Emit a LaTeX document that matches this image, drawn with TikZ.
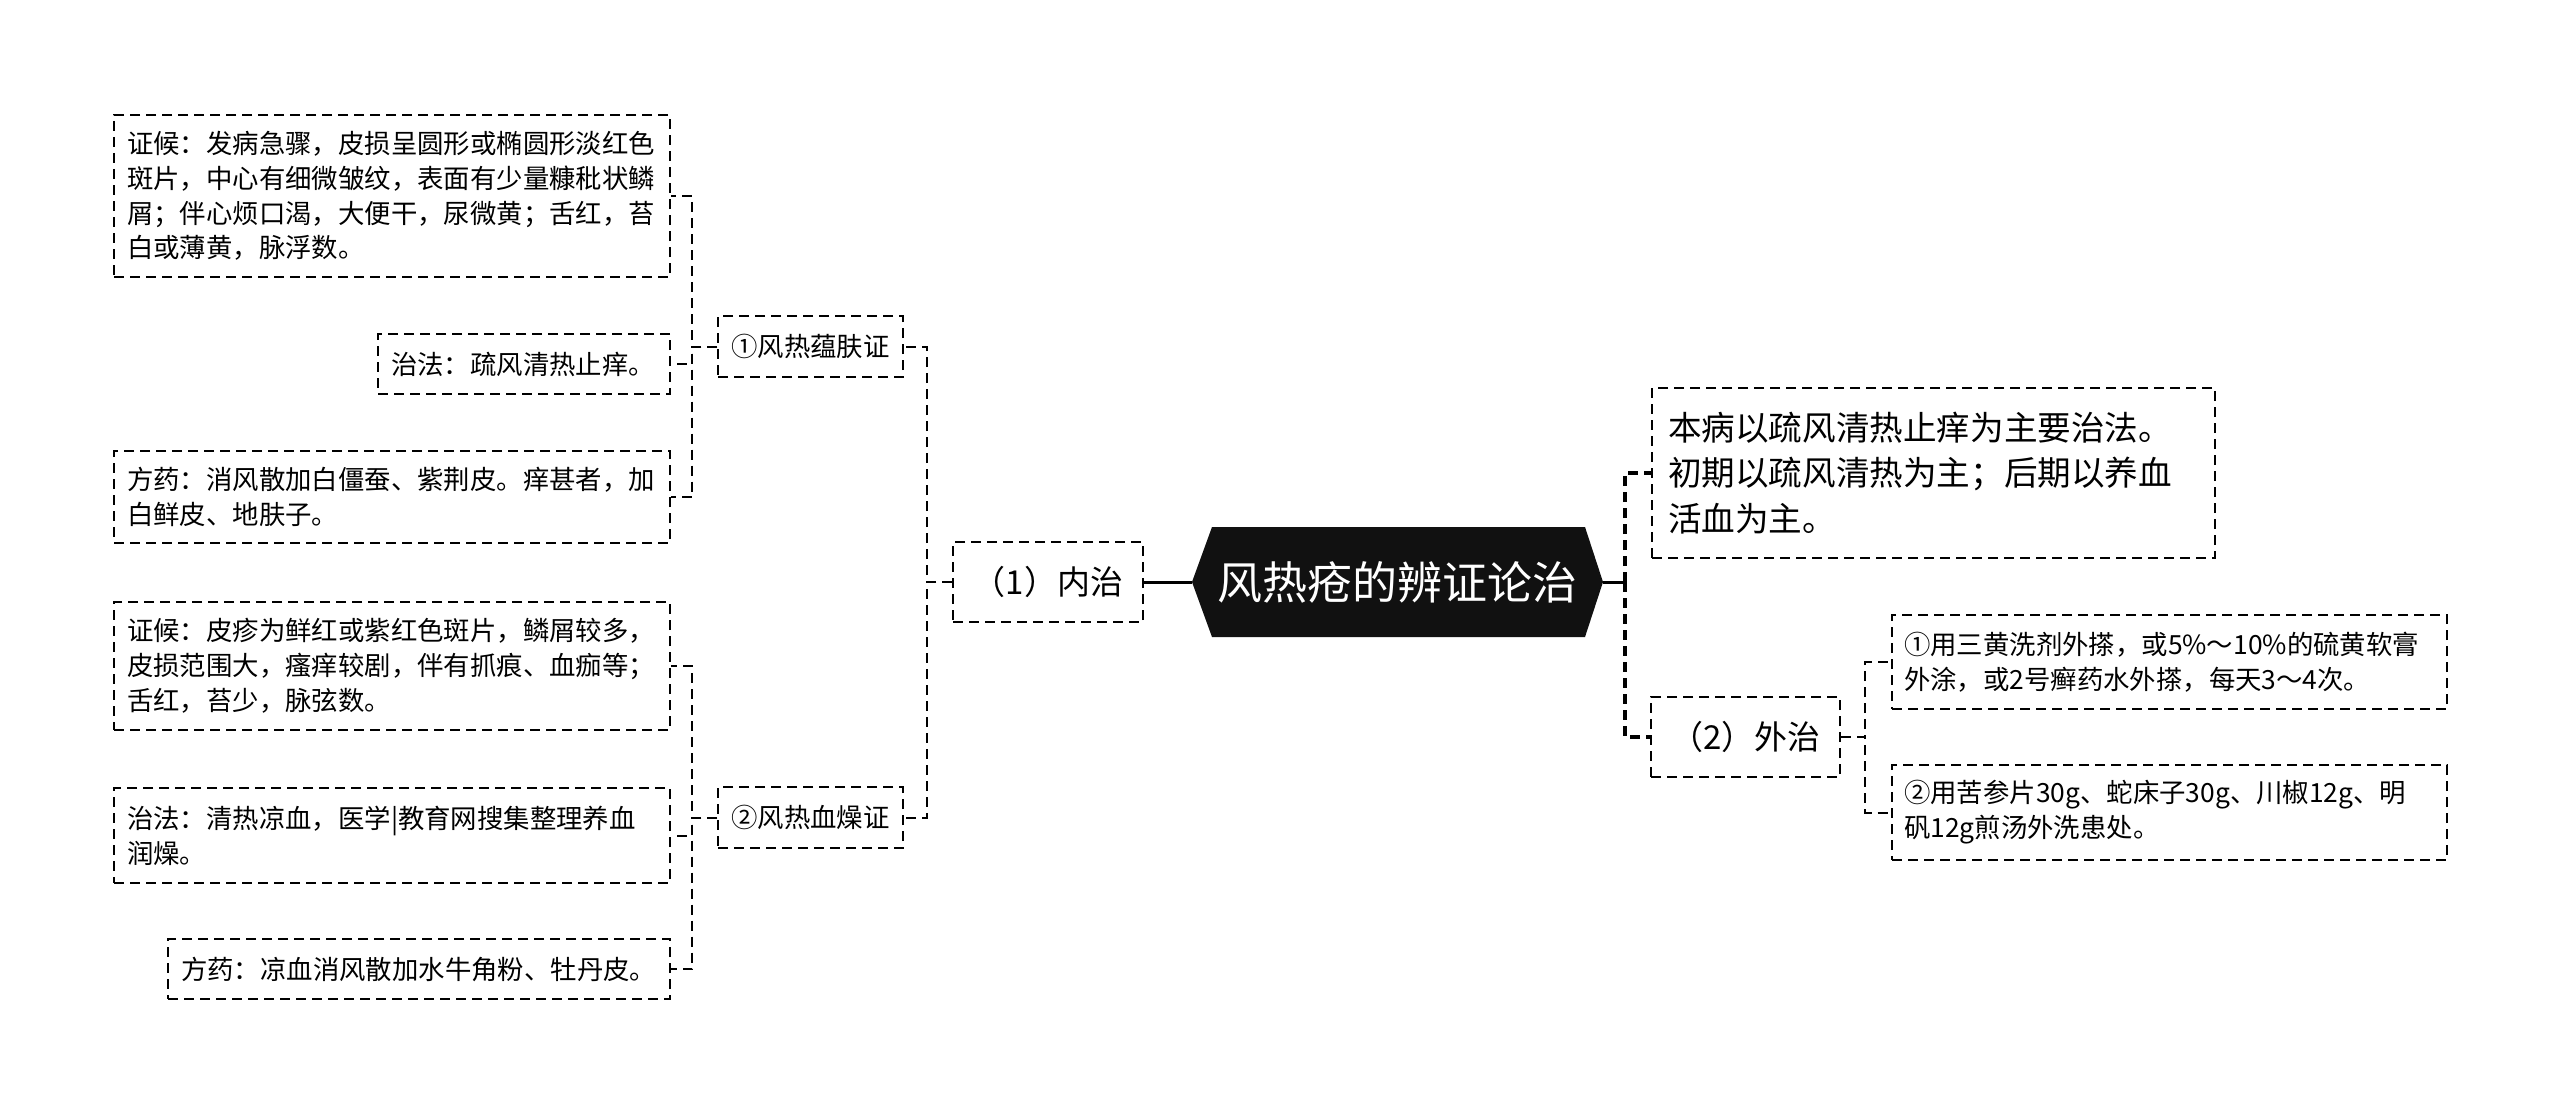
\documentclass[tikz,border=0pt]{standalone}
\usepackage{fontspec}
\setmainfont{Noto Sans CJK SC}
\definecolor{rootfill}{HTML}{111111}
\begin{document}
\begin{tikzpicture}[x=1pt,y=-1pt,
  box/.style={draw=black, line width=2pt, dash pattern=on 10pt off 6pt, anchor=north west,
    inner xsep=13pt, inner ysep=0pt, align=left, font=\fontsize{26.4pt}{34.8pt}\selectfont},
  midbox/.style={draw=black, line width=2pt, dash pattern=on 10pt off 6pt, inner sep=0pt,
    align=center, font=\fontsize{26.4pt}{34.8pt}\selectfont},
  bigbox/.style={draw=black, line width=2pt, dash pattern=on 10pt off 6pt, inner sep=0pt,
    align=center, font=\fontsize{33pt}{40pt}\selectfont},
  conn/.style={line width=2pt, dash pattern=on 10pt off 6pt},
  thickconn/.style={line width=3.5pt, dash pattern=on 10pt off 6pt},
  solidconn/.style={line width=3pt},
  rootnode/.style={minimum width=411pt, minimum height=110pt, inner sep=0pt, fill=white,
    text=white, font=\fontsize{45pt}{54pt}\selectfont,
    path picture={\fill[rootfill] (path picture bounding box.west)
      -- ([xshift=20pt]path picture bounding box.north west)
      -- ([xshift=-18pt]path picture bounding box.north east)
      -- (path picture bounding box.east)
      -- ([xshift=-18pt]path picture bounding box.south east)
      -- ([xshift=20pt]path picture bounding box.south west) -- cycle;}}
]
\useasboundingbox (0,0) rectangle (2560,1113);

% root
\node[rootnode] (root) at (1397.5,582) {风热疮的辨证论治};

% level 1
\node[bigbox, minimum width=190pt, minimum height=80pt] (nz) at (1048,582) {（1）内治};
\node[bigbox, minimum width=189pt, minimum height=80pt] (wz) at (1745.5,737) {（2）外治};

% level 2 left
\node[midbox, minimum width=185pt, minimum height=61pt] (n1) at (810.5,346.5) {①风热蕴肤证};
\node[midbox, minimum width=185pt, minimum height=61pt] (n2) at (810.5,817.5) {②风热血燥证};

% leaves left
\node[box, text width=530pt, minimum height=162pt] (A) at (113,114)
  {证候：发病急骤，皮损呈圆形或椭圆形淡红色\\斑片，中心有细微皱纹，表面有少量糠秕状鳞\\屑；伴心烦口渴，大便干，尿微黄；舌红，苔\\白或薄黄，脉浮数。};
\node[box, text width=266pt, minimum height=60pt] (B) at (377,333)
  {治法：疏风清热止痒。};
\node[box, text width=530pt, minimum height=92pt] (C) at (113,450)
  {方药：消风散加白僵蚕、紫荆皮。痒甚者，加\\白鲜皮、地肤子。};
\node[box, text width=530pt, minimum height=128pt] (D) at (113,601)
  {证候：皮疹为鲜红或紫红色斑片，鳞屑较多，\\皮损范围大，瘙痒较剧，伴有抓痕、血痂等；\\舌红，苔少，脉弦数。};
\node[box, text width=530pt, minimum height=95pt] (E) at (113,787)
  {治法：清热凉血，医学|教育网搜集整理养血\\润燥。};
\node[box, text width=476pt, minimum height=60pt] (F) at (167,938)
  {方药：凉血消风散加水牛角粉、牡丹皮。};

% leaves right
\node[box, inner xsep=16pt, text width=531pt, minimum height=170pt,
  font=\fontsize{33.6pt}{45.7pt}\selectfont] (G) at (1651,387)
  {本病以疏风清热止痒为主要治法。\\初期以疏风清热为主；后期以养血\\活血为主。};
\node[box, inner xsep=12pt, text width=531pt, minimum height=94pt] (H) at (1891,614)
  {①用三黄洗剂外搽，或5\%～10\%的硫黄软膏\\外涂，或2号癣药水外搽，每天3～4次。};
\node[box, inner xsep=12pt, text width=531pt, minimum height=95pt] (I) at (1891,764)
  {②用苦参片30g、蛇床子30g、川椒12g、明\\矾12g煎汤外洗患处。};

% connectors
\draw[solidconn] (nz.east) -- (root.west);
\coordinate (rt) at (1625,582);
\draw[solidconn] (root.east) -- (rt);
\draw[thickconn] (rt) |- (G.west);
\draw[thickconn] (rt) |- (wz.west);

\draw[conn] (wz.east) -- ++(24,0) |- (H.west);
\draw[conn] (wz.east) -- ++(24,0) |- (I.west);

\draw[conn] (nz.west) -- ++(-25,0) |- (n1.east);
\draw[conn] (nz.west) -- ++(-25,0) |- (n2.east);

\draw[conn] (n1.west) -- ++(-25,0) |- (A.east);
\draw[conn] (n1.west) -- ++(-25,0) |- (B.east);
\draw[conn] (n1.west) -- ++(-25,0) |- (C.east);

\draw[conn] (n2.west) -- ++(-25,0) |- (D.east);
\draw[conn] (n2.west) -- ++(-25,0) |- (E.east);
\draw[conn] (n2.west) -- ++(-25,0) |- (F.east);
\end{tikzpicture}
\end{document}
